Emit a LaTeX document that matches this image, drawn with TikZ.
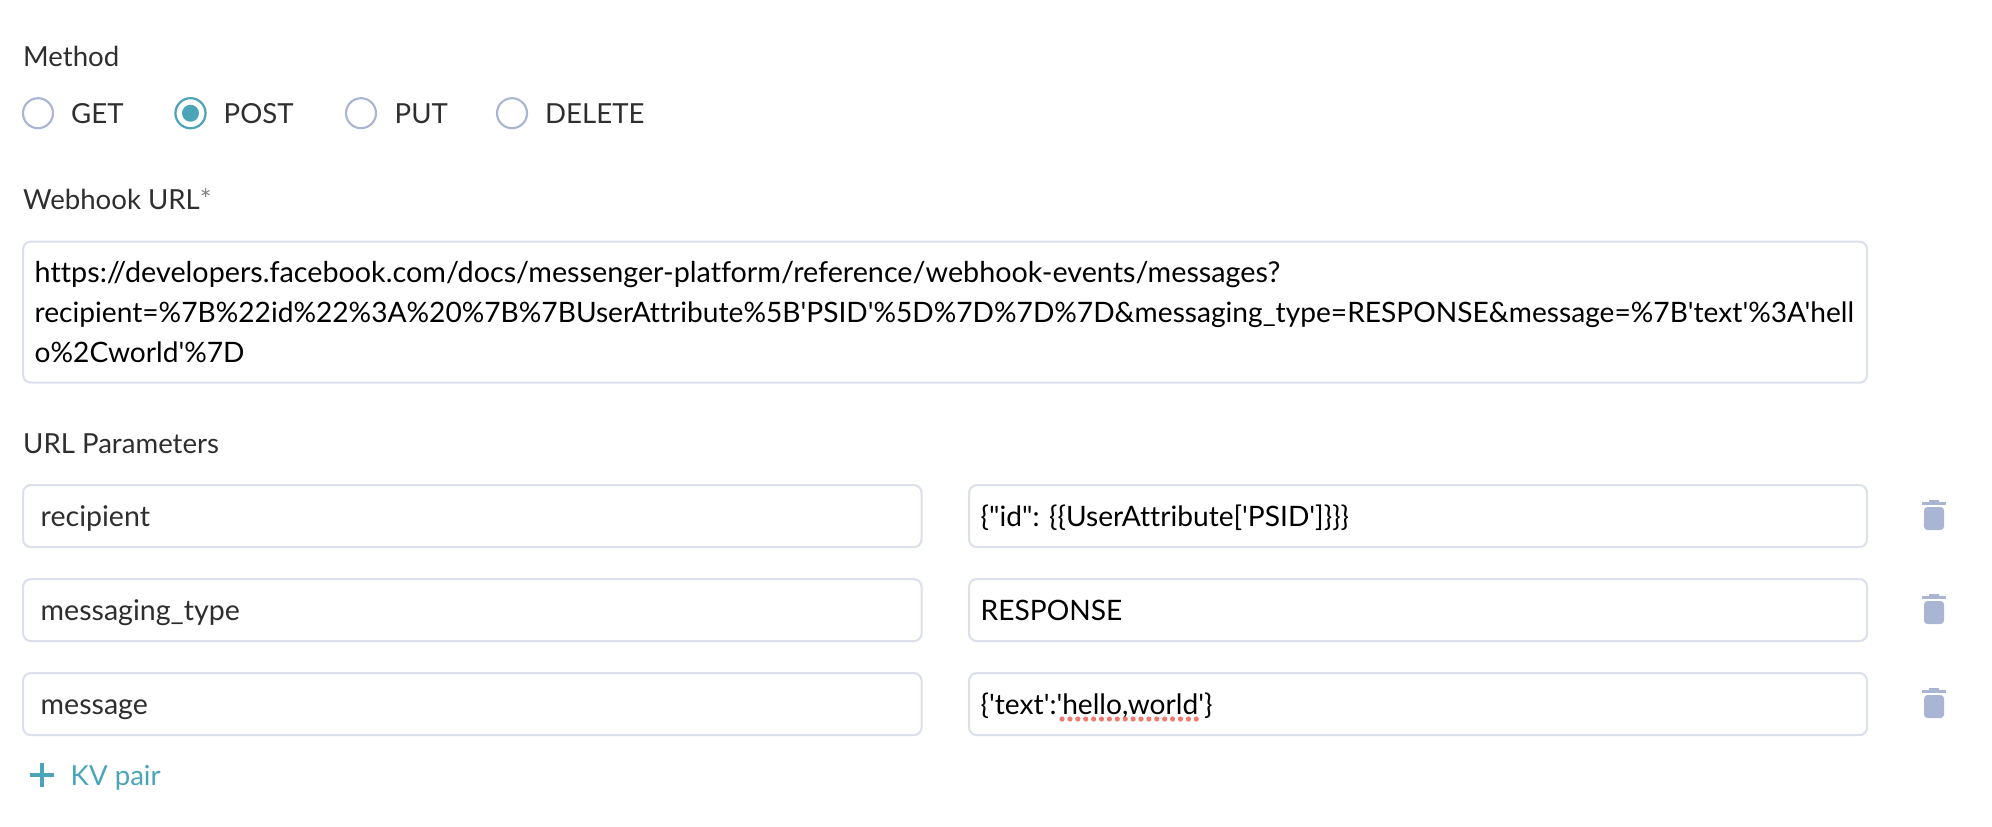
\documentclass[tikz,border=0pt]{standalone}
\usepackage{fontspec}
\newfontfamily\uifont[Ligatures=NoCommon]{Lato}
\definecolor{fieldline}{HTML}{DBE0EC}
\definecolor{radioline}{HTML}{A9B5D3}
\definecolor{tealmark}{HTML}{4BA5B8}
\definecolor{labeltext}{HTML}{2E2E2E}
\definecolor{squiggle}{HTML}{EE7B6F}
\tikzset{
    fieldbox/.style={draw=fieldline, line width=0.6pt, rounded corners=2.2pt, fill=white, anchor=north west, inner sep=0pt},
    labeltxt/.style={anchor=base west, inner sep=0pt, text=labeltext, font=\uifont\fontsize{7.85}{10}\selectfont},
    valuetxt/.style={anchor=base west, inner sep=0pt, text=black, font=\uifont\fontsize{8}{10}\selectfont},
    radiobtn/.style={circle, draw=radioline, line width=0.6pt, fill=white, minimum size=0.3cm, inner sep=0pt},
}
\begin{document}
\begin{tikzpicture}[x=0.01cm, y=-0.01cm]
    \useasboundingbox (0,0) rectangle (1992,826);

    % Method
    \node[labeltxt] (method) at (22.5,66) {Method};
    \foreach \nm/\cx/\tx/\lbl in {get/38/70.5/GET, post/190.5/223/POST, put/361/394/PUT, delete/512/544.5/DELETE} {
        \node[radiobtn] (radio\nm) at (\cx,113.2) {};
        \node[labeltxt] (label\nm) at (\tx,123.5) {\lbl};
    }
    \node[radiobtn, draw=tealmark] (radiopost) at (190.5,113.2) {};
    \node[circle, fill=tealmark, minimum size=0.17cm, inner sep=0pt] (postdot) at (radiopost) {};

    % Webhook URL
    \node[labeltxt] (webhook) at (22.5,209.5) {Webhook URL\textcolor{gray}{*}};
    \node[fieldbox, minimum width=18.43cm, minimum height=1.41cm] (urlbox) at (22,240.5) {};
    \node[valuetxt, font=\uifont\fontsize{8.17}{10}\selectfont] (urlone) at (34,282.5) {https://developers.facebook.com/docs/messenger-platform/reference/webhook-events/messages?};
    \node[valuetxt] (urltwo) at (34,322) {recipient=\%7B\%22id\%22\%3A\%20\%7B\%7BUserAttribute\%5B'PSID'\%5D\%7D\%7D\%7D\&messaging\_type=RESPONSE\&message=\%7B'text'\%3A'hell};
    \node[valuetxt] (urlthree) at (34,362) {o\%2Cworld'\%7D};

    % URL Parameters
    \node[labeltxt] (params) at (22.5,453) {URL Parameters};
    \foreach \nm/\rowtop/\key/\val in {
        recip/484/recipient/{\{"id": \{\{UserAttribute['PSID']\}\}\}},
        mtype/578/messaging\_type/RESPONSE,
        msg/672/message/{\{'text':'hello,world'\}}} {
        \node[fieldbox, minimum width=8.98cm, minimum height=0.62cm] (key\nm) at (22,\rowtop) {};
        \node[fieldbox, minimum width=8.975cm, minimum height=0.62cm] (val\nm) at (968,\rowtop) {};
        \node[valuetxt, text=labeltext, font=\uifont\fontsize{8.12}{10}\selectfont] (keytxt\nm) at (40,\rowtop+42) {\key};
        \node[valuetxt] (valtxt\nm) at (980,\rowtop+42) {\val};
        % Papierkorb
        \fill[radioline] (1929,\rowtop+16) rectangle (1939,\rowtop+19);
        \fill[radioline] (1922,\rowtop+18) rectangle (1946,\rowtop+21);
        \fill[radioline, rounded corners=1pt] (1924,\rowtop+23) -- (1944,\rowtop+23) -- (1944,\rowtop+46) -- (1924,\rowtop+46) -- cycle;
    }

    % Rechtschreibung
    \foreach \i in {0,...,17} {
        \fill[squiggle] (1062+\i*7.9,719) circle (2.6);
    }

    % KV pair
    \draw[tealmark, line width=1.1pt] (30,775) -- (54,775);
    \draw[tealmark, line width=1.1pt] (42,763) -- (42,787);
    \node[labeltxt, text=tealmark] (addpair) at (70,785) {KV pair};
\end{tikzpicture}
\end{document}
